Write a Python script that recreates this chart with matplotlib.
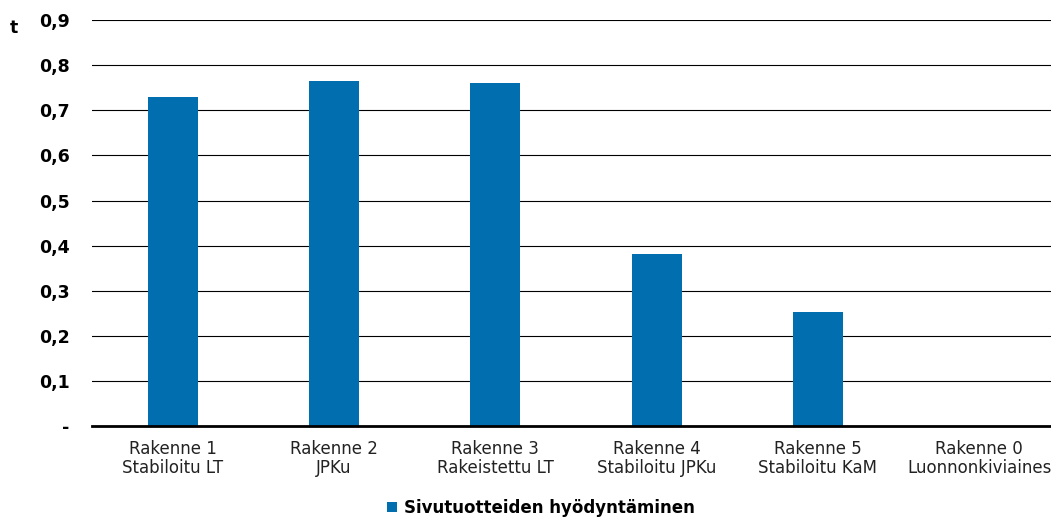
import matplotlib.pyplot as plt
from matplotlib.ticker import FixedLocator, FixedFormatter

# Structure variants and by-product use (t)
categories = ["Rakenne 1\nStabiloitu LT", "Rakenne 2\nJPKu", "Rakenne 3\nRakeistettu LT",
              "Rakenne 4\nStabiloitu JPKu", "Rakenne 5\nStabiloitu KaM",
              "Rakenne 0\nLuonnonkiviaines"]
values = [0.73, 0.765, 0.76, 0.381, 0.253, 0.0]
series_name = "Sivutuotteiden hyödyntäminen"
y_ticks = [0, 0.1, 0.2, 0.3, 0.4, 0.5, 0.6, 0.7, 0.8, 0.9]
y_labels = ["-", "0,1", "0,2", "0,3", "0,4", "0,5", "0,6", "0,7", "0,8", "0,9"]

bar_color = "#006EAF"

fig = plt.figure(figsize=(10.51, 5.17), dpi=100)
ax = fig.add_axes([0.0875, 0.176, 0.921, 0.785])

x = range(len(categories))
ax.bar(x, values, width=0.31, color=bar_color, label=series_name, zorder=3)

ax.set_xlim(-0.5, len(categories) - 0.5)
ax.set_ylim(0, 0.9)
ax.yaxis.set_major_locator(FixedLocator(y_ticks))
ax.yaxis.set_major_formatter(FixedFormatter(y_labels))
ax.set_xticks(list(x))
ax.set_xticklabels(categories, fontsize=12, color="#222222", linespacing=1.1)
ax.tick_params(axis="y", length=0, pad=16, labelsize=12.5)
ax.tick_params(axis="x", length=0, pad=10)
for lbl in ax.get_yticklabels():
    lbl.set_fontweight("bold")

ax.grid(axis="y", color="black", linewidth=0.8, zorder=0)
for side in ["top", "right", "left"]:
    ax.spines[side].set_visible(False)
ax.spines["bottom"].set_linewidth(2)
ax.spines["bottom"].set_zorder(4)

fig.text(0.009, 0.945, "t", fontsize=12.5, fontweight="bold", va="center")

fig.legend(loc="center", bbox_to_anchor=(0.515, 0.018), frameon=False,
           handlelength=0.6, handleheight=0.6, handletextpad=0.4,
           prop={"size": 12, "weight": "bold"})

fig.savefig("out.png", dpi=100)
